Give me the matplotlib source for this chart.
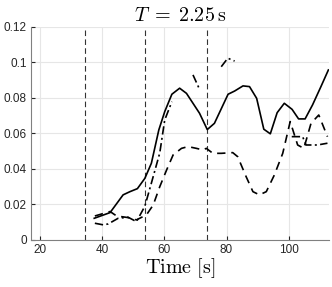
import numpy as np
import matplotlib.pyplot as plt

plt.rcParams['mathtext.fontset'] = 'cm'
plt.rcParams['font.family'] = ['Liberation Sans', 'DejaVu Sans']

# solid series
t_solid = [37.4, 42.5, 46.7, 48.9, 51.3, 53.7, 55.8, 58.2, 60.1, 62.4, 64.9, 67.1,
           71.3, 73.8, 76.1, 80.5, 82.6, 85.3, 87.4, 89.7, 92.0, 94.1, 96.3, 98.6,
           101.1, 103.2, 105.3, 107.7, 110.4, 112.8]
v_solid = [0.0122, 0.0154, 0.0254, 0.0272, 0.0289, 0.0347, 0.0432, 0.062, 0.0723, 0.0821,
           0.0855, 0.0826, 0.0714, 0.0622, 0.0657, 0.0821, 0.0839, 0.0868, 0.0864, 0.0798,
           0.0624, 0.0598, 0.0717, 0.077, 0.0736, 0.0682, 0.0682, 0.0761, 0.0864, 0.0958]

# dashed series
t_dash = [37.6, 42.5, 44.6, 48.3, 51.0, 54.2, 56.4, 58.5, 60.7, 62.8, 65.5, 67.6, 70.3,
          72.4, 73.5, 75.6, 78.3, 82.0, 83.6, 86.3, 88.5, 90.6, 92.8, 95.4, 98.1, 100.5,
          102.9, 104.9, 107.2, 109.7, 112.5]
v_dash = [0.0135, 0.016, 0.0135, 0.0126, 0.0113, 0.0141, 0.0197, 0.030, 0.0394, 0.0479,
          0.0516, 0.0526, 0.0516, 0.0507, 0.0516, 0.0488, 0.0488, 0.0492, 0.0469, 0.0357,
          0.0272, 0.0254, 0.0272, 0.0366, 0.0488, 0.0667, 0.0535, 0.0516, 0.0657, 0.0704,
          0.0582]

# dash-dot series (gaps = missing data)
t_dd = [37.6, 40.3, 41.9, 45.1, 48.3, 51.0, 53.7, 55.8, 58.5, 60.1, 62.4, np.nan,
        69.2, 71.3, np.nan, 78.3, 80.4, 82.6, np.nan,
        101.0, 104.5, 105.6, 109.3, 112.5]
v_dd = [0.0094, 0.0085, 0.009, 0.0122, 0.0128, 0.0103, 0.019, 0.032, 0.049, 0.0676,
        0.0779, np.nan, 0.093, 0.0849, np.nan, 0.0976, 0.1024, 0.1008, np.nan,
        0.0582, 0.0582, 0.0535, 0.0535, 0.0545]

t_marks = [34.3, 53.9, 73.6]

fig = plt.figure(figsize=(3.32, 2.87), dpi=100)
ax = fig.add_axes([0.093, 0.164, 0.898, 0.742])

ax.grid(True, color='#e6e6e6', linewidth=0.8)
ax.set_axisbelow(True)

for tm in t_marks:
    ax.axvline(tm, color='#333333', linewidth=0.8, dashes=(5, 3))

ax.plot(t_solid, v_solid, color='k', linewidth=1.2)
ax.plot(t_dash, v_dash, color='k', linewidth=1.2, dashes=(5, 3.5))
ax.plot(t_dd, v_dd, color='k', linewidth=1.2, dashes=(5, 2, 1.2, 2))

ax.set_xlim(17, 113)
ax.set_ylim(0, 0.12)
ax.set_xticks([20, 40, 60, 80, 100])
ax.set_yticks([0, 0.02, 0.04, 0.06, 0.08, 0.1, 0.12])
ax.set_yticklabels(['0', '0.02', '0.04', '0.06', '0.08', '0.1', '0.12'])
ax.tick_params(direction='in', length=3, labelsize=8.5, colors='#262626', pad=3)

for s in ['top', 'right']:
    ax.spines[s].set_visible(False)
for s in ['left', 'bottom']:
    ax.spines[s].set_color('#808080')
    ax.spines[s].set_linewidth(0.8)

ax.set_title(r'$T\;=\;2.25\,\mathrm{s}$', fontsize=14.5, pad=4)
ax.set_xlabel(r'$\mathrm{Time\ [s]}$', fontsize=14.5, labelpad=0)

fig.savefig('out.png', dpi=100)
